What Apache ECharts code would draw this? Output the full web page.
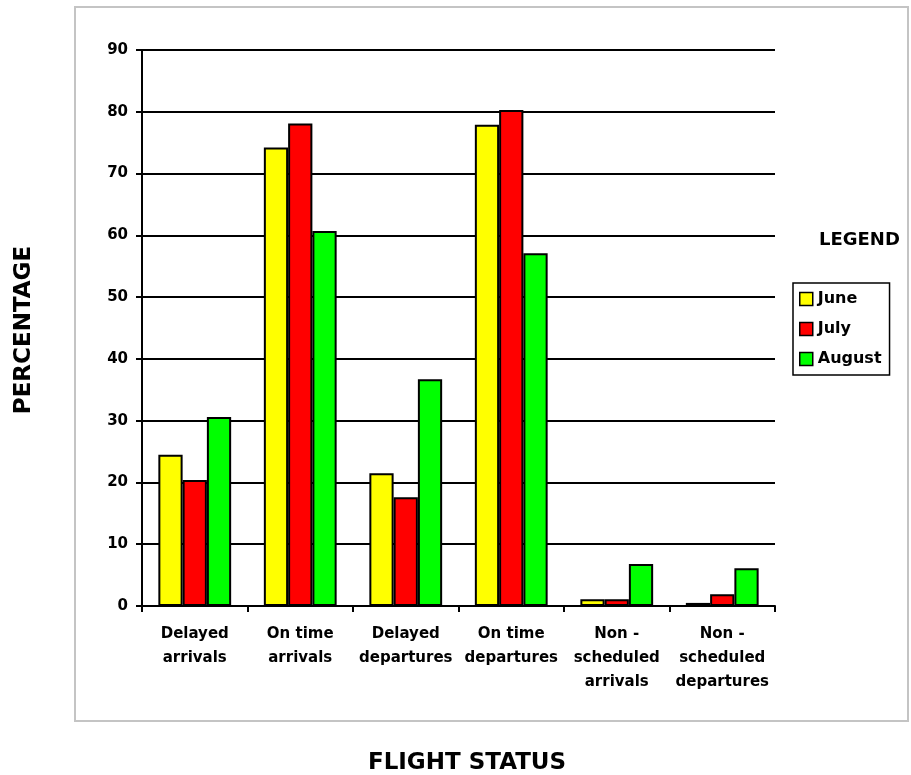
<!DOCTYPE html>
<html>
<head>
<meta charset="utf-8">
<script src="https://cdn.jsdelivr.net/npm/echarts@6/dist/echarts.min.js"></script>
<style>
  html, body { margin: 0; padding: 0; background: #fff; }
  #chart { width: 911px; height: 775px; }
</style>
</head>
<body>
<div id="chart"></div>
<script>
// Flight status categories (x axis)
const categories = [
  'Delayed\narrivals',
  'On time\narrivals',
  'Delayed\ndepartures',
  'On time\ndepartures',
  'Non -\nscheduled\narrivals',
  'Non -\nscheduled\ndepartures'
];

// Percentages per month
const june   = [24.5, 74.2, 21.5, 77.9, 1.1, 0.5];
const july   = [20.4, 78.1, 17.6, 80.3, 1.1, 1.9];
const august = [30.6, 60.7, 36.7, 57.1, 6.8, 6.1];

const seriesNames = ['June', 'July', 'August'];
const seriesColors = ['#ffff00', '#ff0000', '#00ff00'];
const seriesData = [june, july, august];

const FONT = '"DejaVu Sans", "Noto Sans", sans-serif';

const chart = echarts.init(document.getElementById('chart'), null, { renderer: 'canvas' });

const option = {
  backgroundColor: '#ffffff',
  animation: false,
  grid: { left: 142, top: 50, right: 136, bottom: 169, containLabel: false },
  graphic: [
    {
      type: 'rect',
      shape: { x: 75, y: 7, width: 833, height: 714 },
      style: { fill: 'none', stroke: '#c4c4c4', lineWidth: 2 },
      z: -1
    },
    {
      type: 'text',
      x: 819, y: 231,
      style: { text: 'LEGEND', font: 'bold 18px ' + FONT, fill: '#000' }
    },
    {
      type: 'text',
      x: 467, y: 763,
      style: { text: 'FLIGHT STATUS', font: 'bold 23px "Liberation Sans Narrow", ' + FONT, fill: '#000', align: 'center', verticalAlign: 'middle' }
    },
    {
      type: 'text',
      rotation: Math.PI / 2,
      x: 24, y: 330,
      style: { text: 'PERCENTAGE', font: 'bold 23px ' + FONT, fill: '#000', align: 'center', verticalAlign: 'middle' }
    }
  ],
  legend: {
    orient: 'vertical',
    left: 793, top: 283,
    itemWidth: 13, itemHeight: 13,
    itemGap: 14,
    padding: [8, 8, 8, 6],
    borderColor: '#000', borderWidth: 1.5,
    textStyle: { fontFamily: FONT, fontWeight: 'bold', fontSize: 16, color: '#000' },
    data: seriesNames.map((n, i) => ({
      name: n,
      icon: 'rect',
      itemStyle: { color: seriesColors[i], borderColor: '#000', borderWidth: 1.5 }
    }))
  },
  xAxis: {
    type: 'category',
    data: categories,
    axisLine: { lineStyle: { color: '#000', width: 2 } },
    axisTick: { show: true, length: 6, lineStyle: { color: '#000', width: 2 } },
    axisLabel: {
      interval: 0,
      margin: 16,
      fontFamily: FONT, fontWeight: 'bold', fontSize: 15, lineHeight: 24, color: '#000'
    }
  },
  yAxis: {
    type: 'value',
    min: 0, max: 90, interval: 10,
    axisLine: { show: true, lineStyle: { color: '#000', width: 2 } },
    axisTick: { show: true, length: 6, lineStyle: { color: '#000', width: 2 } },
    splitLine: { show: true, lineStyle: { color: '#000', width: 2 } },
    axisLabel: { margin: 14, fontFamily: FONT, fontWeight: 'bold', fontSize: 15, color: '#000' }
  },
  series: seriesNames.map((n, i) => ({
    name: n,
    type: 'bar',
    data: seriesData[i],
    barGap: '0%',
    barCategoryGap: '31%',
    itemStyle: { color: seriesColors[i], borderColor: '#000', borderWidth: 2 }
  }))
};

chart.setOption(option);
</script>
</body>
</html>
